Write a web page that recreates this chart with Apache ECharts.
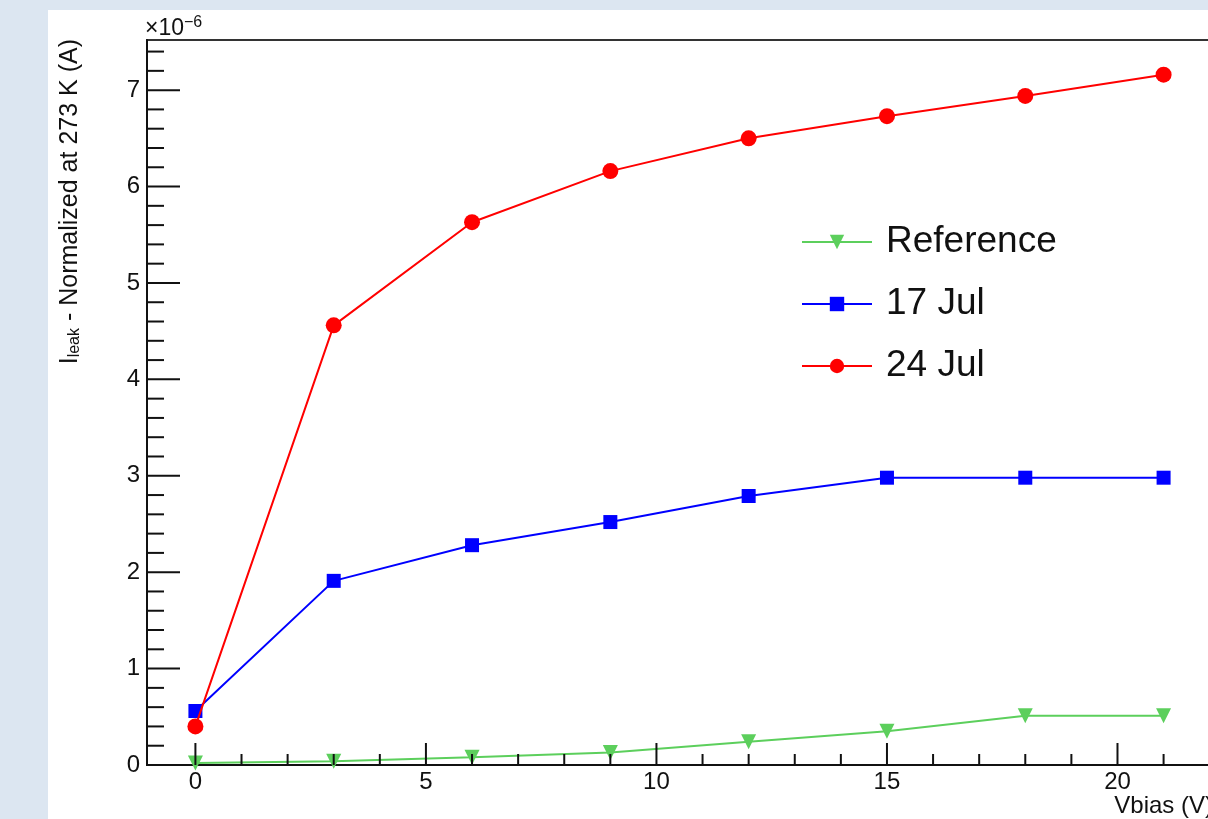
<!DOCTYPE html>
<html>
<head>
<meta charset="utf-8">
<title>Leakage current vs bias voltage</title>
<script src="https://cdn.jsdelivr.net/npm/echarts@6/dist/echarts.min.js"></script>
<style>
  html, body { margin: 0; padding: 0; background: #dce6f1; }
  #chart { width: 1208px; height: 819px; }
</style>
</head>
<body>
<div id="chart"></div>
<script>
// Bias voltage points (V)
const vbias = [0, 3, 6, 9, 12, 15, 18, 21];
// Leakage current normalized at 273 K, in units of 1e-6 A
const ileakReference = [0.02, 0.04, 0.08, 0.13, 0.24, 0.35, 0.51, 0.51];
const ileak17Jul = [0.56, 1.91, 2.28, 2.52, 2.79, 2.98, 2.98, 2.98];
const ileak24Jul = [0.40, 4.56, 5.63, 6.16, 6.50, 6.73, 6.94, 7.16];
const seriesNames = ['Reference', '17 Jul', '24 Jul'];

// Axis ranges and tick positions
const xRange = [-1.05, 22.05];
const yRange = [0, 7.52];
const xMajorTicks = [0, 5, 10, 15, 20];
const xMinorTicks = [1, 2, 3, 4, 6, 7, 8, 9, 11, 12, 13, 14, 16, 17, 18, 19, 21];
const yMajorTicks = [1, 2, 3, 4, 5, 6, 7];
const yMinorTicks = [0.2, 0.4, 0.6, 0.8, 1.2, 1.4, 1.6, 1.8, 2.2, 2.4, 2.6, 2.8,
  3.2, 3.4, 3.6, 3.8, 4.2, 4.4, 4.6, 4.8, 5.2, 5.4, 5.6, 5.8, 6.2, 6.4, 6.6, 6.8, 7.2, 7.4];

const FONT = '"Liberation Sans", Arial, Helvetica, sans-serif';
const pairs = ys => vbias.map((x, i) => [x, ys[i]]);

// Tick marks drawn inside the frame, ROOT style
function xTickSeries(values, len) {
  return {
    type: 'custom', silent: true, z: 5,
    data: values.map(v => [v, yRange[0]]),
    renderItem: (params, api) => {
      const p = api.coord([api.value(0), yRange[0]]);
      return { type: 'line', shape: { x1: p[0], y1: p[1], x2: p[0], y2: p[1] - len },
        style: { stroke: '#111', lineWidth: 2 } };
    }
  };
}
function yTickSeries(values, len) {
  return {
    type: 'custom', silent: true, z: 5,
    data: values.map(v => [xRange[0], v]),
    renderItem: (params, api) => {
      const p = api.coord([xRange[0], api.value(1)]);
      return { type: 'line', shape: { x1: p[0], y1: p[1], x2: p[0] + len, y2: p[1] },
        style: { stroke: '#111', lineWidth: 2 } };
    }
  };
}

const chart = echarts.init(document.getElementById('chart'), null, { renderer: 'canvas' });
chart.setOption({
  backgroundColor: '#dce6f1',
  animation: false,
  textStyle: { fontFamily: FONT },
  graphic: [
    { type: 'rect', z: -10, shape: { x: 48, y: 10, width: 1200, height: 850 }, style: { fill: '#ffffff' } },
    {
      type: 'text', x: 145, y: 40, z: 10,
      style: {
        text: '{m|×10}{s|−6}', align: 'left', verticalAlign: 'bottom',
        rich: {
          m: { fontFamily: FONT, fontSize: 23, fill: '#111', lineHeight: 25, verticalAlign: 'bottom' },
          s: { fontFamily: FONT, fontSize: 16, fill: '#111', lineHeight: 16, verticalAlign: 'top', padding: [0, 0, 11, 0] }
        }
      }
    },
    {
      type: 'text', x: 70, y: 39, rotation: Math.PI / 2, z: 10,
      style: {
        text: '{m|I}{s|leak}{m| - Normalized at 273 K (A)}', align: 'right', verticalAlign: 'middle',
        rich: {
          m: { fontFamily: FONT, fontSize: 25, fill: '#111', lineHeight: 25, verticalAlign: 'top' },
          s: { fontFamily: FONT, fontSize: 16, fill: '#111', lineHeight: 16, verticalAlign: 'bottom', padding: [14, 0, 0, 0] }
        }
      }
    },
    {
      type: 'text', x: 1213, y: 806, z: 10,
      style: { text: 'Vbias (V)', fontFamily: FONT, fontSize: 24, fill: '#111', align: 'right', verticalAlign: 'middle' }
    }
  ],
  grid: {
    left: 147, top: 40, width: 1065, height: 725, outerBoundsMode: 'none', containLabel: false,
    show: true, borderColor: '#333', borderWidth: 2, backgroundColor: 'transparent'
  },
  legend: {
    orient: 'vertical', left: 796, top: 216,
    data: seriesNames,
    itemWidth: 70, itemHeight: 18, itemGap: 20,
    textStyle: { fontFamily: FONT, fontSize: 37, color: '#111', lineHeight: 42, padding: [0, 0, 0, 9] }
  },
  xAxis: {
    type: 'value', min: xRange[0], max: xRange[1],
    axisLine: { lineStyle: { color: '#111', width: 2 } },
    axisTick: { show: false },
    splitLine: { show: false },
    axisLabel: {
      fontFamily: FONT, fontSize: 24, color: '#111', margin: 5,
      formatter: v => (Math.abs(v % 5) < 1e-9 ? String(v) : '')
    }
  },
  yAxis: {
    type: 'value', min: yRange[0], max: yRange[1], interval: 1,
    axisLine: { onZero: false, lineStyle: { color: '#111', width: 2 } },
    axisTick: { show: false },
    splitLine: { show: false },
    axisLabel: {
      fontFamily: FONT, fontSize: 24, color: '#111', margin: 7,
      showMaxLabel: false,
      formatter: v => (Number.isInteger(v) ? String(v) : '')
    }
  },
  series: [
    {
      name: seriesNames[0], type: 'line', data: pairs(ileakReference),
      symbol: 'triangle', symbolRotate: 180, symbolSize: 15, z: 3,
      lineStyle: { color: '#5ccf5c', width: 2 }, itemStyle: { color: '#5ccf5c' }
    },
    {
      name: seriesNames[1], type: 'line', data: pairs(ileak17Jul),
      symbol: 'rect', symbolSize: 14, z: 3,
      lineStyle: { color: '#0000ff', width: 2 }, itemStyle: { color: '#0000ff' }
    },
    {
      name: seriesNames[2], type: 'line', data: pairs(ileak24Jul),
      symbol: 'circle', symbolSize: 16, z: 4,
      lineStyle: { color: '#ff0000', width: 2 }, itemStyle: { color: '#ff0000' }
    },
    xTickSeries(xMajorTicks, 22),
    xTickSeries(xMinorTicks, 11),
    yTickSeries(yMajorTicks, 33),
    yTickSeries(yMinorTicks, 17)
  ]
});
</script>
</body>
</html>
